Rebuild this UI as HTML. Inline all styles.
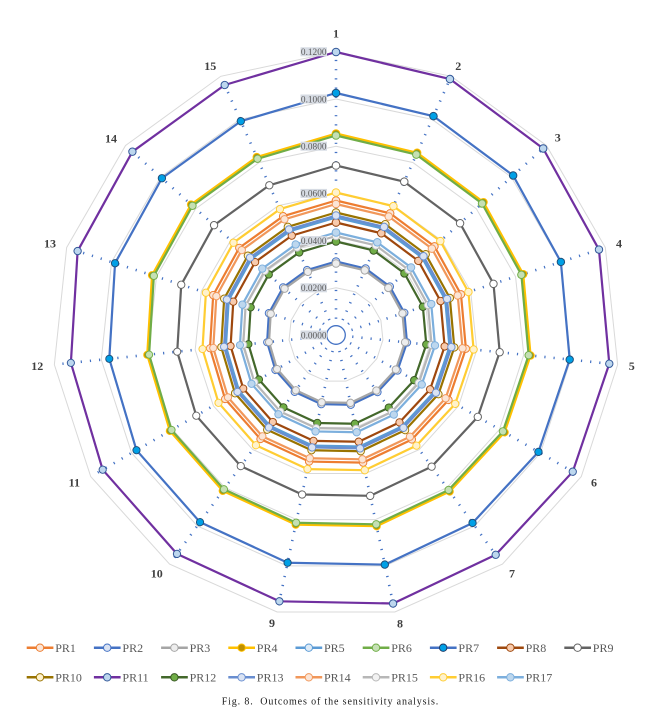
<!DOCTYPE html>
<html><head><meta charset="utf-8"><style>
html,body{margin:0;padding:0;background:#fff;}
svg{display:block;}
text{font-family:"Liberation Serif",serif;}
</style></head><body>
<svg width="645" height="724" viewBox="0 0 645 724" xmlns="http://www.w3.org/2000/svg">
<defs>
<polygon id="sh" fill="none" stroke-linejoin="round" points="0,-100 40.267,-90.441 73.199,-65.909 92.919,-30.191 96.568,10.15 83.658,48.3 56.428,77.666 20.167,94.881 -20.001,94.098 -56.193,77.342 -82.446,47.6 -93.684,9.847 -91.302,-29.666 -71.936,-64.772 -39.332,-88.34"/>
<polygon id="rg" fill="none" points="0,-100 40.674,-91.355 74.314,-66.913 95.106,-30.902 99.452,10.453 86.603,50 58.779,80.902 20.791,97.815 -20.791,97.815 -58.779,80.902 -86.603,50 -99.452,10.453 -95.106,-30.902 -74.314,-66.913 -40.674,-91.355"/>
<line id="ax" x1="0" y1="-16.3" x2="0" y2="-283" stroke="#4472C4" stroke-width="2.6" stroke-dasharray="1.2 8"/>
<g id="mk" stroke-width="1">
<circle cy="-134.5" r="3.8" fill="#FBE5D6" stroke="#ED7D31"/>
<circle cy="-73.5" r="3.8" fill="#DAE3F3" stroke="#4472C4"/>
<circle cy="-71.5" r="3.8" fill="#EDEDED" stroke="#A5A5A5"/>
<circle cy="-201.5" r="3.8" fill="#BF9000" stroke="#FFC000"/>
<circle cy="-117.5" r="3.8" fill="#DEEBF7" stroke="#5B9BD5"/>
<circle cy="-199.5" r="3.8" fill="#C5E0B4" stroke="#70AD47"/>
<circle cy="-242" r="3.8" fill="#00A0E6" stroke="#1F4E79"/>
<circle cy="-112.5" r="3.8" fill="#F8CBAD" stroke="#9E480E"/>
<circle cy="-169.5" r="3.8" fill="#FFFFFF" stroke="#636363"/>
<circle cy="-122.5" r="3.8" fill="#FFF2CC" stroke="#997300"/>
<circle cy="-283" r="3.8" fill="#BDD7EE" stroke="#2F5597"/>
<circle cy="-93.5" r="3.8" fill="#70AD47" stroke="#385723"/>
<circle cy="-119.5" r="3.8" fill="#DAE3F3" stroke="#698ED0"/>
<circle cy="-131" r="3.8" fill="#FBE5D6" stroke="#F1975A"/>
<circle cy="-99" r="3.8" fill="#F2F2F2" stroke="#B7B7B7"/>
<circle cy="-142.5" r="3.8" fill="#FFF2CC" stroke="#FFCD33"/>
<circle cy="-102.5" r="3.8" fill="#BDD7EE" stroke="#7CAFDD"/>
</g>
</defs>

<!-- gridlines -->
<g stroke="#D9D9D9">
<use href="#rg" transform="translate(336,335) scale(0.472)" stroke-width="2.119"/>
<use href="#rg" transform="translate(336,335) scale(0.944)" stroke-width="1.059"/>
<use href="#rg" transform="translate(336,335) scale(1.416)" stroke-width="0.706"/>
<use href="#rg" transform="translate(336,335) scale(1.888)" stroke-width="0.53"/>
<use href="#rg" transform="translate(336,335) scale(2.36)" stroke-width="0.424"/>
<use href="#rg" transform="translate(336,335) scale(2.832)" stroke-width="0.353"/>
</g>

<!-- axes -->
<use href="#ax" transform="translate(336,335) rotate(0)"/>
<use href="#ax" transform="translate(336,335) rotate(24)"/>
<use href="#ax" transform="translate(336,335) rotate(48)"/>
<use href="#ax" transform="translate(336,335) rotate(72)"/>
<use href="#ax" transform="translate(336,335) rotate(96)"/>
<use href="#ax" transform="translate(336,335) rotate(120)"/>
<use href="#ax" transform="translate(336,335) rotate(144)"/>
<use href="#ax" transform="translate(336,335) rotate(168)"/>
<use href="#ax" transform="translate(336,335) rotate(192)"/>
<use href="#ax" transform="translate(336,335) rotate(216)"/>
<use href="#ax" transform="translate(336,335) rotate(240)"/>
<use href="#ax" transform="translate(336,335) rotate(264)"/>
<use href="#ax" transform="translate(336,335) rotate(288)"/>
<use href="#ax" transform="translate(336,335) rotate(312)"/>
<use href="#ax" transform="translate(336,335) rotate(336)"/>
<circle cx="336" cy="335" r="9.3" fill="none" stroke="#4472C4" stroke-width="1.3"/>

<!-- series lines -->
<use href="#sh" transform="translate(336,335) scale(1.345)" stroke="#ED7D31" stroke-width="1.636"/>
<use href="#sh" transform="translate(336,335) scale(0.735)" stroke="#4472C4" stroke-width="2.993"/>
<use href="#sh" transform="translate(336,335) scale(0.715)" stroke="#A5A5A5" stroke-width="3.077"/>
<use href="#sh" transform="translate(336,335) scale(2.015)" stroke="#FFC000" stroke-width="1.092"/>
<use href="#sh" transform="translate(336,335) scale(1.175)" stroke="#5B9BD5" stroke-width="1.872"/>
<use href="#sh" transform="translate(336,335) scale(1.995)" stroke="#70AD47" stroke-width="1.103"/>
<use href="#sh" transform="translate(336,335) scale(2.42)" stroke="#4472C4" stroke-width="0.909"/>
<use href="#sh" transform="translate(336,335) scale(1.125)" stroke="#9E480E" stroke-width="1.956"/>
<use href="#sh" transform="translate(336,335) scale(1.695)" stroke="#636363" stroke-width="1.298"/>
<use href="#sh" transform="translate(336,335) scale(1.225)" stroke="#997300" stroke-width="1.796"/>
<use href="#sh" transform="translate(336,335) scale(2.83)" stroke="#7030A0" stroke-width="0.777"/>
<use href="#sh" transform="translate(336,335) scale(0.935)" stroke="#43682B" stroke-width="2.353"/>
<use href="#sh" transform="translate(336,335) scale(1.195)" stroke="#698ED0" stroke-width="1.841"/>
<use href="#sh" transform="translate(336,335) scale(1.31)" stroke="#F1975A" stroke-width="1.679"/>
<use href="#sh" transform="translate(336,335) scale(0.99)" stroke="#B7B7B7" stroke-width="2.222"/>
<use href="#sh" transform="translate(336,335) scale(1.425)" stroke="#FFCD33" stroke-width="1.544"/>
<use href="#sh" transform="translate(336,335) scale(1.025)" stroke="#7CAFDD" stroke-width="2.146"/>

<!-- markers -->
<use href="#mk" transform="translate(336,335) rotate(0) scale(1)"/>
<use href="#mk" transform="translate(336,335) rotate(24) scale(0.99)"/>
<use href="#mk" transform="translate(336,335) rotate(48) scale(0.985)"/>
<use href="#mk" transform="translate(336,335) rotate(72) scale(0.977)"/>
<use href="#mk" transform="translate(336,335) rotate(96) scale(0.971)"/>
<use href="#mk" transform="translate(336,335) rotate(120) scale(0.966)"/>
<use href="#mk" transform="translate(336,335) rotate(144) scale(0.96)"/>
<use href="#mk" transform="translate(336,335) rotate(168) scale(0.97)"/>
<use href="#mk" transform="translate(336,335) rotate(192) scale(0.962)"/>
<use href="#mk" transform="translate(336,335) rotate(216) scale(0.956)"/>
<use href="#mk" transform="translate(336,335) rotate(240) scale(0.952)"/>
<use href="#mk" transform="translate(336,335) rotate(264) scale(0.942)"/>
<use href="#mk" transform="translate(336,335) rotate(288) scale(0.96)"/>
<use href="#mk" transform="translate(336,335) rotate(312) scale(0.968)"/>
<use href="#mk" transform="translate(336,335) rotate(336) scale(0.967)"/>

<!-- value labels -->
<g font-size="9.3" fill="#595959" text-anchor="end">
<rect x="300.5" y="330.5" width="26.5" height="9" fill="#D6DBE3"/><text x="326.5" y="338.3">0.0000</text>
<rect x="300.5" y="283.3" width="26.5" height="9" fill="#D6DBE3"/><text x="326.5" y="291.1">0.0200</text>
<rect x="300.5" y="236.1" width="26.5" height="9" fill="#D6DBE3"/><text x="326.5" y="243.9">0.0400</text>
<rect x="300.5" y="188.9" width="26.5" height="9" fill="#D6DBE3"/><text x="326.5" y="196.7">0.0600</text>
<rect x="300.5" y="141.7" width="26.5" height="9" fill="#D6DBE3"/><text x="326.5" y="149.5">0.0800</text>
<rect x="300.5" y="94.5" width="26.5" height="9" fill="#D6DBE3"/><text x="326.5" y="102.3">0.1000</text>
<rect x="300.5" y="47.3" width="26.5" height="9" fill="#D6DBE3"/><text x="326.5" y="55.1">0.1200</text>
</g>

<!-- category labels -->
<g font-size="12" font-weight="bold" fill="#404040" text-anchor="middle">
<text x="336" y="37.5">1</text>
<text x="458.3" y="69.9">2</text>
<text x="557.7" y="141.5">3</text>
<text x="619" y="247.5">4</text>
<text x="631.7" y="369.9">5</text>
<text x="594" y="486.5">6</text>
<text x="512" y="577.5">7</text>
<text x="400" y="627.5">8</text>
<text x="272" y="626.9">9</text>
<text x="156.7" y="577.5">10</text>
<text x="74.3" y="486.5">11</text>
<text x="37.3" y="369.9">12</text>
<text x="50" y="247.5">13</text>
<text x="111" y="142.5">14</text>
<text x="210.3" y="69.9">15</text>
</g>

<!-- legend -->
<g font-size="12" fill="#595959">
<g stroke-width="2.5">
<line x1="26.7" y1="647.7" x2="53.4" y2="647.7" stroke="#ED7D31"/>
<line x1="93.9" y1="647.7" x2="120.6" y2="647.7" stroke="#4472C4"/>
<line x1="161.1" y1="647.7" x2="187.8" y2="647.7" stroke="#A5A5A5"/>
<line x1="228.3" y1="647.7" x2="255" y2="647.7" stroke="#FFC000"/>
<line x1="295.5" y1="647.7" x2="322.2" y2="647.7" stroke="#5B9BD5"/>
<line x1="362.7" y1="647.7" x2="389.4" y2="647.7" stroke="#70AD47"/>
<line x1="429.9" y1="647.7" x2="456.6" y2="647.7" stroke="#4472C4"/>
<line x1="497.1" y1="647.7" x2="523.8" y2="647.7" stroke="#9E480E"/>
<line x1="564.3" y1="647.7" x2="591" y2="647.7" stroke="#636363"/>
<line x1="26.7" y1="677.3" x2="53.4" y2="677.3" stroke="#997300"/>
<line x1="93.9" y1="677.3" x2="120.6" y2="677.3" stroke="#7030A0"/>
<line x1="161.1" y1="677.3" x2="187.8" y2="677.3" stroke="#43682B"/>
<line x1="228.3" y1="677.3" x2="255" y2="677.3" stroke="#698ED0"/>
<line x1="295.5" y1="677.3" x2="322.2" y2="677.3" stroke="#F1975A"/>
<line x1="362.7" y1="677.3" x2="389.4" y2="677.3" stroke="#B7B7B7"/>
<line x1="429.9" y1="677.3" x2="456.6" y2="677.3" stroke="#FFCD33"/>
<line x1="497.1" y1="677.3" x2="523.8" y2="677.3" stroke="#7CAFDD"/>
</g>
<g stroke-width="1">
<circle cx="40" cy="647.7" r="3.7" fill="#FBE5D6" stroke="#ED7D31"/>
<circle cx="107.2" cy="647.7" r="3.7" fill="#DAE3F3" stroke="#4472C4"/>
<circle cx="174.4" cy="647.7" r="3.7" fill="#EDEDED" stroke="#A5A5A5"/>
<circle cx="241.6" cy="647.7" r="3.7" fill="#BF9000" stroke="#FFC000"/>
<circle cx="308.8" cy="647.7" r="3.7" fill="#DEEBF7" stroke="#5B9BD5"/>
<circle cx="376" cy="647.7" r="3.7" fill="#C5E0B4" stroke="#70AD47"/>
<circle cx="443.2" cy="647.7" r="3.7" fill="#00A0E6" stroke="#1F3864"/>
<circle cx="510.4" cy="647.7" r="3.7" fill="#F8CBAD" stroke="#9E480E"/>
<circle cx="577.6" cy="647.7" r="3.7" fill="#FFFFFF" stroke="#636363"/>
<circle cx="40" cy="677.3" r="3.7" fill="#FFF2CC" stroke="#997300"/>
<circle cx="107.2" cy="677.3" r="3.7" fill="#BDD7EE" stroke="#2F5597"/>
<circle cx="174.4" cy="677.3" r="3.7" fill="#70AD47" stroke="#385723"/>
<circle cx="241.6" cy="677.3" r="3.7" fill="#DAE3F3" stroke="#698ED0"/>
<circle cx="308.8" cy="677.3" r="3.7" fill="#FBE5D6" stroke="#F1975A"/>
<circle cx="376" cy="677.3" r="3.7" fill="#F2F2F2" stroke="#B7B7B7"/>
<circle cx="443.2" cy="677.3" r="3.7" fill="#FFF2CC" stroke="#FFCD33"/>
<circle cx="510.4" cy="677.3" r="3.7" fill="#BDD7EE" stroke="#7CAFDD"/>
</g>
<text x="55.2" y="651.8">PR1</text>
<text x="122.4" y="651.8">PR2</text>
<text x="189.6" y="651.8">PR3</text>
<text x="256.8" y="651.8">PR4</text>
<text x="324" y="651.8">PR5</text>
<text x="391.2" y="651.8">PR6</text>
<text x="458.4" y="651.8">PR7</text>
<text x="525.6" y="651.8">PR8</text>
<text x="592.8" y="651.8">PR9</text>
<text x="55.2" y="681.4">PR10</text>
<text x="122.4" y="681.4">PR11</text>
<text x="189.6" y="681.4">PR12</text>
<text x="256.8" y="681.4">PR13</text>
<text x="324" y="681.4">PR14</text>
<text x="391.2" y="681.4">PR15</text>
<text x="458.4" y="681.4">PR16</text>
<text x="525.6" y="681.4">PR17</text>
</g>

<!-- caption -->
<text x="221.7" y="704.3" font-size="10" fill="#1a1a1a" textLength="216.6" lengthAdjust="spacing">Fig. 8.&#160; Outcomes of the sensitivity analysis.</text>
</svg>
</body></html>
